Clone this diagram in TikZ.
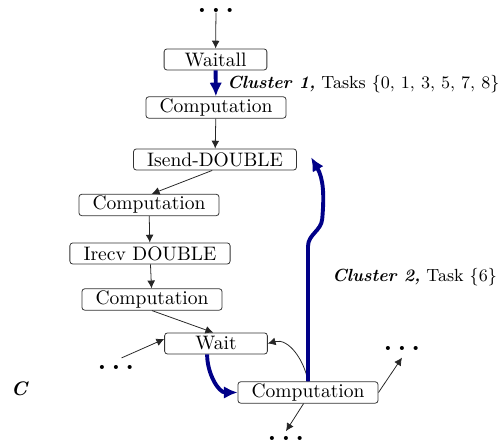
\documentclass[tikz,border=0pt]{standalone}
\usetikzlibrary{arrows.meta}
\definecolor{clusterblue}{HTML}{000088}

\begin{document}
\begin{tikzpicture}[
    box/.style={draw=black!80, rounded corners=1.5pt, inner xsep=7pt,
                inner ysep=1pt, minimum height=0.38cm},
    flow/.style={-{Latex[length=4pt,width=4pt]}, black!85},
    cluster/.style={-{Latex[length=7pt,width=6.5pt]}, clusterblue,
                    line width=2pt},
    moredots/.style={font=\Large\bfseries, inner sep=0pt},
    tag/.style={anchor=west, inner sep=0pt, font=\small}
]
\useasboundingbox (0,0) rectangle (9,7.992);

% --- TASK SEQUENCE ---
\node[moredots] (topDots) at (3.888,7.81) {.\hspace{2.6pt}.\hspace{2.6pt}.};
\node[box, minimum width=1.85cm] (waitall) at (3.879,6.921) {Waitall};
\node[box] (compA) at (3.888,6.057) {Computation};
\node[box] (isend) at (3.870,5.121) {Isend-DOUBLE};
\node[box] (compB) at (2.682,4.302) {Computation};
\node[box] (irecv) at (2.700,3.429) {Irecv DOUBLE};
\node[box] (compC) at (2.736,2.601) {Computation};
\node[box, minimum width=1.85cm] (wait) at (3.888,1.809) {Wait};
\node[box] (compD) at (5.544,0.927) {Computation};

% --- LOOSE ENDS ---
\node[moredots] (leftDots) at (2.088,1.386) {.\hspace{2.6pt}.\hspace{2.6pt}.};
\node[moredots] (rightDots) at (7.236,1.728) {.\hspace{2.6pt}.\hspace{2.6pt}.};
\node[moredots] (botDots) at (5.148,0.108) {.\hspace{2.6pt}.\hspace{2.6pt}.};
\coordinate (isendIn) at (5.60,5.16);

% --- LABELS ---
\node[tag] (clusterOne) at (4.086,6.48)
    {\textbf{\textit{Cluster 1,}} Tasks \{0, 1, 3, 5, 7, 8\}};
\node[tag] (clusterTwo) at (5.976,3.006)
    {\textbf{\textit{Cluster 2,}} Task \{6\}};
\node[inner sep=0pt] (cLabel) at (0.36,0.99) {\textbf{\textit{C}}};

% --- THIN ARROWS ---
\draw[flow] (topDots) -- (waitall);
\draw[flow] (compA) -- (isend);
\draw[flow] ([xshift=-0.05cm]isend.south) -- ([xshift=0.05cm]compB.north);
\draw[flow] (compB) -- (irecv);
\draw[flow] (irecv) -- (compC);
\draw[flow] (compC.south) -- ([xshift=-0.05cm]wait.north);
\draw[flow] ([xshift=0.1cm,yshift=0.12cm]leftDots.north)
    -- ([yshift=0.08cm]wait.west);
\draw[flow] (compD.north) to[out=100,in=15] (wait.east);
\draw[flow] (compD.east) -- ([yshift=-0.13cm]rightDots.south);
\draw[flow] ([xshift=-0.08cm]compD.south) -- ([yshift=0.08cm]botDots.north);

% --- CLUSTER ARROWS ---
\draw[cluster] (waitall) -- (compA);
\draw[cluster] ([xshift=-0.16cm]wait.south) to[out=-90,in=180] (compD.west);
\draw[cluster] (compD.north) -- ++(0,2.43)
    to[out=90,in=-95] (5.80,4.05)
    to[out=85,in=-60] (isendIn);

\end{tikzpicture}
\end{document}
